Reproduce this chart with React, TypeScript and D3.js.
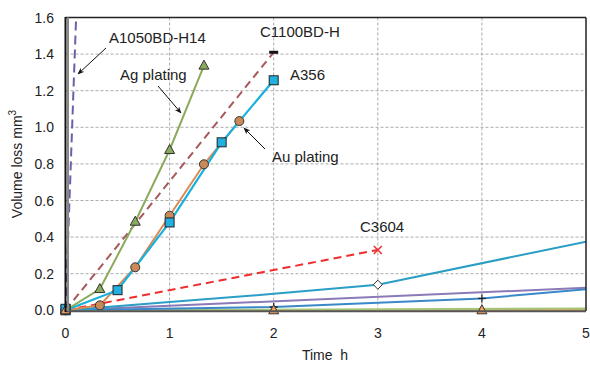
import React from "react";
import * as d3 from "d3";

const xTicks = [0, 1, 2, 3, 4, 5];
const yTicks = [0, 0.2, 0.4, 0.6, 0.8, 1.0, 1.2, 1.4, 1.6];

const a1050T = [0, 0.105];
const a1050V = [0, 1.65];
const agT = [0, 0.33, 0.67, 1.0, 1.33];
const agV = [0, 0.116, 0.484, 0.876, 1.337];
const c1100T = [0, 2];
const c1100V = [0, 1.41];
const a356T = [0, 0.5, 1.0, 1.5, 2.0];
const a356V = [0, 0.11, 0.48, 0.918, 1.257];
const auT = [0, 0.33, 0.67, 1.0, 1.33, 1.67];
const auV = [0, 0.027, 0.235, 0.517, 0.798, 1.034];
const c3604T = [0, 1, 2, 3];
const c3604V = [0, 0.11, 0.22, 0.33];
const tealT = [0, 1, 2, 3, 5];
const tealV = [0, 0.045, 0.09, 0.14, 0.375];
const purpleT = [0, 5];
const purpleV = [0, 0.123];
const blueT = [0, 2, 4, 5];
const blueV = [0, 0.018, 0.065, 0.115];
const greenLowT = [0, 5];
const greenLowV = [0, 0.01];
const orangeLowT = [0, 2, 4, 5];
const orangeLowV = [0, 0, 0, 0.003];
const brownLowT = [0, 5];
const brownLowV = [0, 0.001];

const W = 590, H = 365;
const x = d3.scaleLinear().domain([0, 5]).range([65.5, 586]);
const y = d3.scaleLinear().domain([0, 1.6]).range([310.3, 17.5]);

const pts = (t: number[], v: number[]) => t.map((d, i) => [d, v[i]] as [number, number]);
const line = d3.line<[number, number]>().x(d => x(d[0])).y(d => y(d[1]));

const FONT = "'Liberation Sans', Arial, sans-serif";

function Tri({ t, v, fill }: { t: number; v: number; fill: string }) {
  const cx = x(t), cy = y(v);
  return <path d={`M${cx},${cy - 5.5}L${cx + 5},${cy + 3.5}L${cx - 5},${cy + 3.5}Z`} fill={fill} stroke="#333" strokeWidth={1} />;
}

export default function App() {
  const series = [
    { t: brownLowT, v: brownLowV, c: "#a87048", w: 2.5 },
    { t: orangeLowT, v: orangeLowV, c: "#e8a048", w: 2 },
    { t: greenLowT, v: greenLowV, c: "#a4c47a", w: 2 },
    { t: purpleT, v: purpleV, c: "#8a7ab8", w: 2 },
    { t: blueT, v: blueV, c: "#3a88c8", w: 2 },
    { t: tealT, v: tealV, c: "#2a9ec4", w: 2 },
  ];
  return (
    <svg width={W} height={H} style={{ display: "block", position: "fixed", left: 0, top: 0 }} xmlns="http://www.w3.org/2000/svg">
      <defs>
        <clipPath id="plot">
          <rect x={65.5} y={17.5} width={520.5} height={293} />
        </clipPath>
        <marker id="ah" viewBox="0 0 10 10" refX="9" refY="5" markerWidth="7" markerHeight="7" orient="auto">
          <path d="M0,1L10,5L0,9L3,5Z" fill="#111" />
        </marker>
      </defs>
      <rect x={0} y={0} width={W} height={H} fill="#fff" />
      {/* grid */}
      {xTicks.slice(1, 5).map(t => (
        <line key={"gx" + t} x1={x(t)} x2={x(t)} y1={y(1.6)} y2={y(0)} stroke="#aaa" strokeWidth={1} strokeDasharray="3,2" />
      ))}
      {yTicks.slice(1, 8).map(v => (
        <line key={"gy" + v} x1={x(0)} x2={x(5)} y1={y(v)} y2={y(v)} stroke="#aaa" strokeWidth={1} strokeDasharray="3,2" />
      ))}
      <g clipPath="url(#plot)">
        {series.map((s, i) => (
          <path key={i} d={line(pts(s.t, s.v)) || ""} fill="none" stroke={s.c} strokeWidth={s.w} />
        ))}
        <path d={line(pts(c3604T, c3604V)) || ""} fill="none" stroke="#ee2e2e" strokeWidth={2} strokeDasharray="8,5" />
        <path d={line(pts(c1100T, c1100V)) || ""} fill="none" stroke="#a8585c" strokeWidth={2} strokeDasharray="8,5" />
        <path d={line(pts(auT, auV)) || ""} fill="none" stroke="#d88a52" strokeWidth={2} />
        <path d={line(pts(a356T, a356V)) || ""} fill="none" stroke="#18b0dc" strokeWidth={2.2} />
        <path d={line(pts(agT, agV)) || ""} fill="none" stroke="#8aab5c" strokeWidth={2} />
        <path d={line(pts(a1050T, a1050V)) || ""} fill="none" stroke="#6860a8" strokeWidth={2} strokeDasharray="9,5" />
      </g>
      {/* markers */}
      {agT.map((t, i) => <Tri key={"ag" + i} t={t} v={agV[i]} fill="#8aab5c" />)}
      {auT.map((t, i) => <circle key={"au" + i} cx={x(t)} cy={y(auV[i])} r={4.5} fill="#c98a58" stroke="#333" strokeWidth={1} />)}
      {a356T.map((t, i) => <rect key={"a3" + i} x={x(t) - 4.5} y={y(a356V[i]) - 4.5} width={9} height={9} fill="#22b0e0" stroke="#222" strokeWidth={1} />)}
      <line x1={x(2) - 4.5} x2={x(2) + 4.5} y1={y(1.41)} y2={y(1.41)} stroke="#111" strokeWidth={3} />
      {(() => { const cx = x(3), cy = y(0.33); return <path d={`M${cx - 4},${cy - 4}L${cx + 4},${cy + 4}M${cx - 4},${cy + 4}L${cx + 4},${cy - 4}`} stroke="#ee2e2e" strokeWidth={1.5} />; })()}
      {(() => { const cx = x(3), cy = y(0.14); return <path d={`M${cx},${cy - 4.5}L${cx + 4.5},${cy}L${cx},${cy + 4.5}L${cx - 4.5},${cy}Z`} fill="#fff" stroke="#333" strokeWidth={1} />; })()}
      {[2, 4].map((t, i) => { const cx = x(t), cy = y(blueV[i + 1]); return <path key={"pl" + t} d={`M${cx - 4},${cy}L${cx + 4},${cy}M${cx},${cy - 4}L${cx},${cy + 4}`} stroke="#222" strokeWidth={1.3} />; })}
      {orangeLowT.slice(0, 3).map((t, i) => <Tri key={"or" + i} t={t} v={orangeLowV[i]} fill="#f0a060" />)}
      <rect x={x(0) - 4.5} y={y(0) - 6} width={9} height={9} fill="#22b0e0" stroke="#222" strokeWidth={1} />
      <Tri t={0} v={0} fill="#f0a060" />
      {/* frame */}
      <line x1={65.5} x2={586} y1={17.5} y2={17.5} stroke="#222" strokeWidth={1.5} />
      <line x1={586} x2={586} y1={17.5} y2={311} stroke="#222" strokeWidth={1.5} />
      <line x1={65.5} x2={586} y1={311.3} y2={311.3} stroke="#555" strokeWidth={2} />
      <line x1={68} x2={68} y1={17.5} y2={311} stroke="#888" strokeWidth={2} />
      <line x1={65.5} x2={65.5} y1={17} y2={312} stroke="#111" strokeWidth={2} />
      {/* tick labels */}
      {yTicks.map(v => (
        <text key={"yt" + v} x={54} y={y(v) + 5} textAnchor="end" fontFamily={FONT} fontSize={14} fill="#222">{v.toFixed(1)}</text>
      ))}
      {xTicks.map(t => (
        <text key={"xt" + t} x={x(t)} y={338} textAnchor="middle" fontFamily={FONT} fontSize={14} fill="#222">{t}</text>
      ))}
      <text x={325} y={360} textAnchor="middle" fontFamily={FONT} fontSize={14} fill="#222" xmlSpace="preserve">Time  h</text>
      <text transform="translate(22,164) rotate(-90)" textAnchor="middle" fontFamily={FONT} fontSize={14} fill="#222">
        Volume loss mm<tspan dy={-6} fontSize={10}>3</tspan>
      </text>
      {/* annotations */}
      <text x={109} y={43} fontFamily={FONT} fontSize={15} fill="#222">A1050BD-H14</text>
      <line x1={106} y1={48} x2={78} y2={74} stroke="#111" strokeWidth={1} markerEnd="url(#ah)" />
      <text x={120} y={80} fontFamily={FONT} fontSize={15} fill="#222">Ag plating</text>
      <line x1={158} y1={86} x2={181} y2={113} stroke="#111" strokeWidth={1} markerEnd="url(#ah)" />
      <text x={260} y={37} fontFamily={FONT} fontSize={15} fill="#222">C1100BD-H</text>
      <text x={290} y={80} fontFamily={FONT} fontSize={15} fill="#222">A356</text>
      <text x={272} y={162} fontFamily={FONT} fontSize={15} fill="#222">Au plating</text>
      <line x1={265} y1={149} x2={244} y2={128} stroke="#111" strokeWidth={1} markerEnd="url(#ah)" />
      <text x={360} y={232} fontFamily={FONT} fontSize={15} fill="#222">C3604</text>
    </svg>
  );
}
